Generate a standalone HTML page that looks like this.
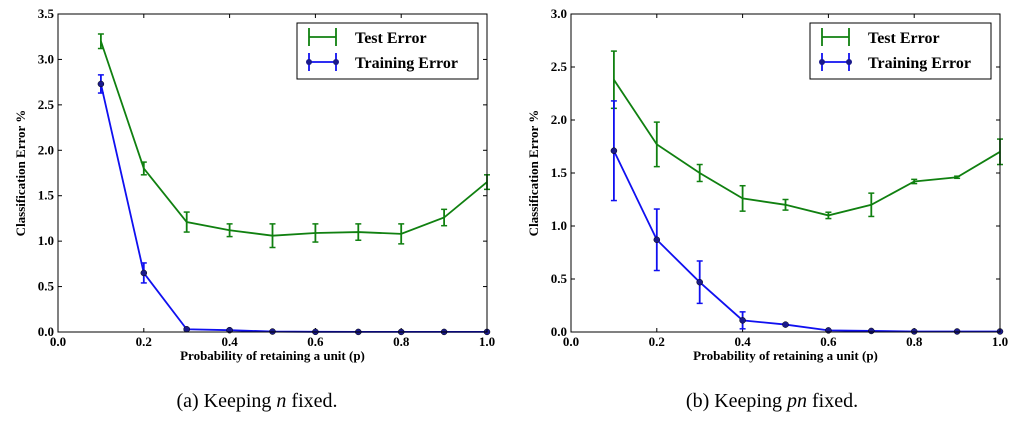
<!DOCTYPE html>
<html><head><meta charset="utf-8"><style>
body{margin:0;background:#fff;width:1023px;height:416px;overflow:hidden}
svg text{font-family:"Liberation Serif",serif}
</style></head><body>
<svg id="s" width="1023" height="416"></svg>
<script>
const xVals=[0.1,0.2,0.3,0.4,0.5,0.6,0.7,0.8,0.9,1.0];
const aTest=[3.2,1.8,1.21,1.12,1.06,1.09,1.1,1.08,1.26,1.65];
const aTestErr=[0.08,0.07,0.11,0.07,0.13,0.1,0.09,0.11,0.09,0.08];
const aTrain=[2.73,0.65,0.03,0.02,0.005,0.002,0.001,0.001,0.001,0.001];
const aTrainErr=[0.1,0.11,0.01,0.01,0,0,0,0,0,0];
const bTest=[2.38,1.77,1.5,1.26,1.2,1.1,1.2,1.42,1.46,1.7];
const bTestErr=[0.27,0.21,0.08,0.12,0.05,0.03,0.11,0.02,0.01,0.12];
const bTrain=[1.71,0.87,0.47,0.11,0.07,0.015,0.01,0.005,0.005,0.005];
const bTrainErr=[0.47,0.29,0.2,0.08,0.01,0,0,0,0,0];
const xTicks=["0.0","0.2","0.4","0.6","0.8","1.0"];
const aYTicks=["0.0","0.5","1.0","1.5","2.0","2.5","3.0","3.5"];
const bYTicks=["0.0","0.5","1.0","1.5","2.0","2.5","3.0"];
const NS="http://www.w3.org/2000/svg";
const svg=document.getElementById('s');
function el(t,a,p){const e=document.createElementNS(NS,t);for(const k in a)e.setAttribute(k,a[k]);(p||svg).appendChild(e);return e;}
function panel(id,x0,x1,y0,y1,ymax,yT,test,testE,train,trainE,lx,cap,capx){
  const g=el('g',{});
  
  
  const X=v=>x0+(x1-x0)*v, Y=v=>y0-(y0-y1)*v/ymax;
  xTicks.forEach(t=>{const v=+t;el('line',{x1:X(v),x2:X(v),y1:y0,y2:y0-4,stroke:'#000'},g);el('line',{x1:X(v),x2:X(v),y1:y1,y2:y1+4,stroke:'#000'},g);
    const tx=el('text',{x:X(v),y:y0+14,'text-anchor':'middle','font-size':'13','font-weight':'bold'},g);tx.textContent=t;
    });
  yT.forEach(t=>{const v=+t;el('line',{x1:x0,x2:x0+4,y1:Y(v),y2:Y(v),stroke:'#000'},g);el('line',{x1:x1,x2:x1-4,y1:Y(v),y2:Y(v),stroke:'#000'},g);
    const tx=el('text',{x:x0-4,y:Y(v)+4,'text-anchor':'end','font-size':'13','font-weight':'bold'},g);tx.textContent=t;
    });
  function series(vals,errs,col,dots,name){
    const sg=el('g',{},g);
    
    
    el('polyline',{points:vals.map((v,i)=>X(xVals[i])+','+Y(v)).join(' '),fill:'none',stroke:col,'stroke-width':1.8},sg);
    vals.forEach((v,i)=>{const x=X(xVals[i]),e=errs[i];
      if(e>0){el('line',{x1:x,x2:x,y1:Y(v-e),y2:Y(v+e),stroke:col,'stroke-width':1.8},sg);
        el('line',{x1:x-3,x2:x+3,y1:Y(v-e),y2:Y(v-e),stroke:col,'stroke-width':1.5},sg);
        el('line',{x1:x-3,x2:x+3,y1:Y(v+e),y2:Y(v+e),stroke:col,'stroke-width':1.5},sg);}
      if(dots)el('circle',{cx:x,cy:Y(v),r:3,fill:'#1a1a8c',stroke:'#000','stroke-width':0.5},sg);});
  }
  series(test,testE,'#108010',false,id+'-test-error-series');
  series(train,trainE,'#1010f0',true,id+'-training-error-series');
  el('rect',{x:x0,y:y1,width:x1-x0,height:y0-y1,fill:'none',stroke:'#000','stroke-width':1},g);
  const t=el('text',{x:(x0+x1)/2,y:y0+28,'text-anchor':'middle','font-size':'13','font-weight':'bold'},g);t.textContent='Probability of retaining a unit (p)';
  
  const yl=el('text',{transform:`translate(${x0-33},${(y0+y1)/2}) rotate(-90)`,'text-anchor':'middle','font-size':'13','font-weight':'bold'},g);yl.textContent='Classification Error %';
  
  const lg=el('g',{},g);
  
  el('rect',{x:lx,y:23,width:181,height:56,fill:'#fff',stroke:'#000','stroke-width':1},lg);
  el('line',{x1:lx+12,x2:lx+39,y1:37,y2:37,stroke:'#108010','stroke-width':1.8},lg);
  [lx+12,lx+39].forEach(x=>el('line',{x1:x,x2:x,y1:28,y2:46,stroke:'#108010','stroke-width':1.8},lg));
  el('line',{x1:lx+12,x2:lx+39,y1:62,y2:62,stroke:'#1010f0','stroke-width':1.8},lg);
  [lx+12,lx+39].forEach(x=>{el('line',{x1:x,x2:x,y1:53,y2:71,stroke:'#1010f0','stroke-width':1.8},lg);el('circle',{cx:x,cy:62,r:3,fill:'#1a1a8c'},lg);});
  const l1=el('text',{x:lx+58,y:43,'font-size':'16','font-weight':'bold'},lg);l1.textContent='Test Error';
  
  const l2=el('text',{x:lx+58,y:68,'font-size':'16','font-weight':'bold'},lg);l2.textContent='Training Error';
  
  const c=el('text',{x:capx,y:407,'text-anchor':'middle','font-size':'20'},g);c.innerHTML=cap;
  
}
panel('panel-a',58,487,332,14,3.5,aYTicks,aTest,aTestErr,aTrain,aTrainErr,297,'(a) Keeping <tspan font-style="italic">n</tspan> fixed.',257);
panel('panel-b',571,1000,332,14,3.0,bYTicks,bTest,bTestErr,bTrain,bTrainErr,810,'(b) Keeping <tspan font-style="italic">pn</tspan> fixed.',772);
</script>
</body></html>
